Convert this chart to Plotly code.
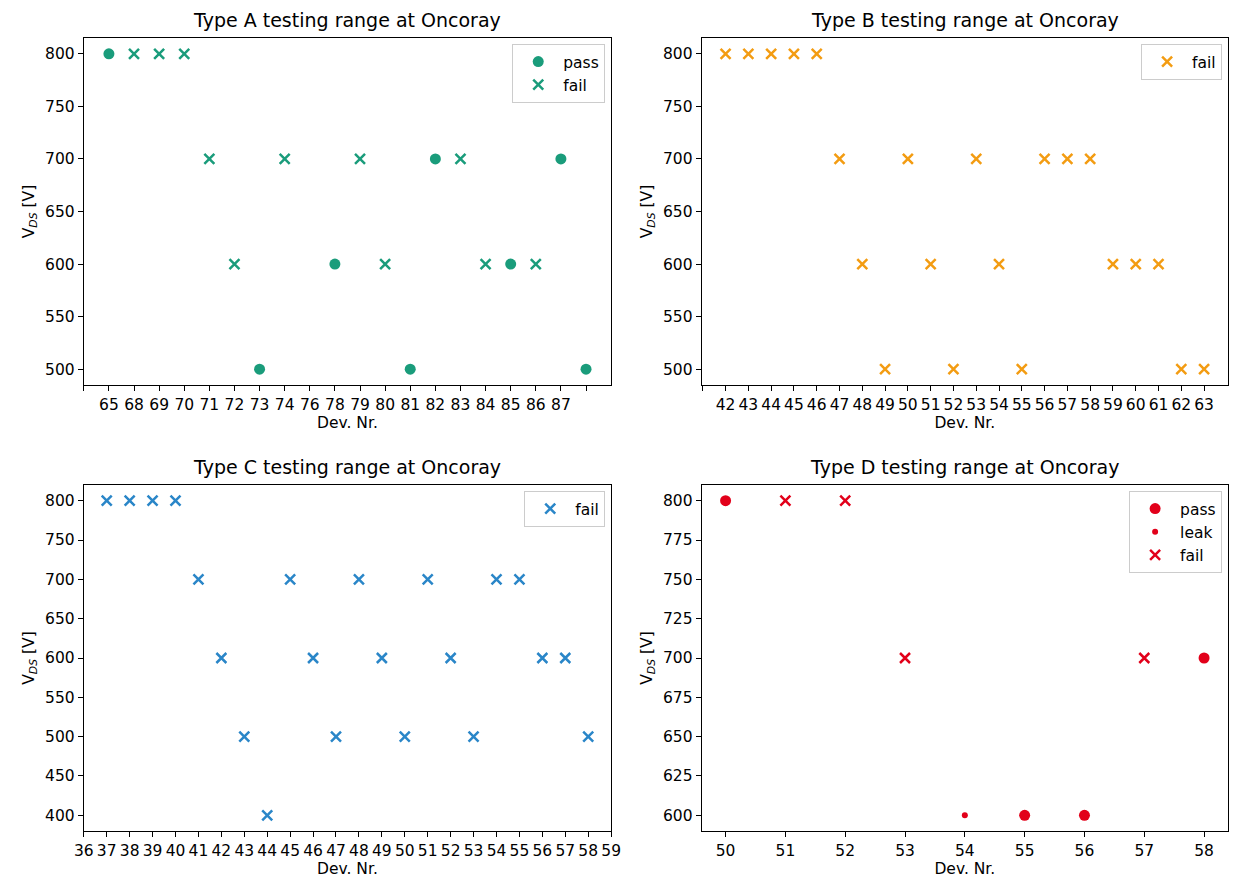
import plotly.graph_objects as go

# ---- Type A: devices placed by index, tick labels per index ----
a_tick_labels = ["", "65", "68", "69", "70", "71", "72", "73", "74", "76", "78",
                 "79", "80", "81", "82", "83", "84", "85", "86", "87", ""]
a_pass_idx = [1, 7, 10, 13, 14, 17, 19, 20]
a_pass_v = [800, 500, 600, 500, 700, 600, 700, 500]
a_fail_idx = [2, 3, 4, 5, 6, 8, 11, 12, 15, 16, 18]
a_fail_v = [800, 800, 800, 700, 600, 700, 700, 600, 700, 600, 600]

# ---- Type B ----
b_tick_labels = [""] + [str(d) for d in range(42, 64)]
b_fail_idx = list(range(1, 23))
b_fail_v = [800, 800, 800, 800, 800, 700, 600, 500, 700, 600, 500,
            700, 600, 500, 700, 700, 700, 600, 600, 600, 500, 500]

# ---- Type C ----
c_fail_dev = list(range(37, 59))
c_fail_v = [800, 800, 800, 800, 700, 600, 500, 400, 700, 600, 500,
            700, 600, 500, 700, 600, 500, 700, 700, 600, 600, 500]

# ---- Type D ----
d_pass_dev = [50, 55, 56, 58]
d_pass_v = [800, 600, 600, 700]
d_leak_dev = [54]
d_leak_v = [600]
d_fail_dev = [51, 52, 53, 57]
d_fail_v = [800, 800, 700, 700]

COL_A = "#1a9c7b"
COL_B = "#f39c12"
COL_C = "#2a86c8"
COL_D = "#e2001a"

FONT = "DejaVu Sans"
FS = 15.5
FS_TITLE = 19
W, H = 1239, 881


def px_x(v):
    return v / W


def px_y(v):
    return 1 - v / H


# axes boxes in pixels: (left, right, top, bottom)
boxes = {
    1: (75, 611, 38, 385),
    2: (703, 1238, 38, 385),
    3: (75, 611, 485, 831),
    4: (703, 1238, 485, 831),
}

fig = go.Figure()


def dot(x, y, name, color, size, legend, xa, ya):
    return go.Scatter(x=x, y=y, mode="markers", name=name, legend=legend,
                      xaxis=xa, yaxis=ya,
                      marker=dict(symbol="circle", size=size, color=color,
                                  line=dict(width=0)))


def cross(x, y, name, color, legend, xa, ya):
    return go.Scatter(x=x, y=y, mode="markers", name=name, legend=legend,
                      xaxis=xa, yaxis=ya,
                      marker=dict(symbol="x-thin", size=10, color=color,
                                  line=dict(width=2.5, color=color)))


fig.add_trace(dot(a_pass_idx, a_pass_v, "pass", COL_A, 11, "legend", "x", "y"))
fig.add_trace(cross(a_fail_idx, a_fail_v, "fail", COL_A, "legend", "x", "y"))

fig.add_trace(cross(b_fail_idx, b_fail_v, "fail", COL_B, "legend2", "x2", "y2"))

fig.add_trace(cross(c_fail_dev, c_fail_v, "fail", COL_C, "legend3", "x3", "y3"))

fig.add_trace(dot(d_pass_dev, d_pass_v, "pass", COL_D, 11, "legend4", "x4", "y4"))
fig.add_trace(dot(d_leak_dev, d_leak_v, "leak", COL_D, 6, "legend4", "x4", "y4"))
fig.add_trace(cross(d_fail_dev, d_fail_v, "fail", COL_D, "legend4", "x4", "y4"))

axis_common = dict(
    showline=True, mirror=True, linecolor="black", linewidth=1,
    showgrid=False, zeroline=False,
    ticks="outside", ticklen=5, tickwidth=1, tickcolor="black",
    tickfont=dict(family=FONT, size=FS, color="black"),
)


def indexed_ticks(labels):
    # labelled positions become major ticks; blank positions keep a bare tick mark
    vals = [i for i, t in enumerate(labels) if t]
    text = [t for t in labels if t]
    blank = [i for i, t in enumerate(labels) if not t]
    return dict(tickmode="array", tickvals=vals, ticktext=text,
                minor=dict(tickmode="array", tickvals=blank, ticks="outside",
                           ticklen=5, tickwidth=1, tickcolor="black", showgrid=False))


titles = {
    1: "Type A testing range at Oncoray",
    2: "Type B testing range at Oncoray",
    3: "Type C testing range at Oncoray",
    4: "Type D testing range at Oncoray",
}

x_settings = {
    1: dict(range=[0, 21], **indexed_ticks(a_tick_labels)),
    2: dict(range=[-0.05, 23.05], **indexed_ticks(b_tick_labels)),
    3: dict(range=[36, 59], tickmode="linear", tick0=36, dtick=1),
    4: dict(range=[49.6, 58.4], tickmode="linear", tick0=50, dtick=1),
}
y_settings = {
    1: dict(range=[485, 815], tickmode="linear", tick0=500, dtick=50),
    2: dict(range=[485, 815], tickmode="linear", tick0=500, dtick=50),
    3: dict(range=[380, 820], tickmode="linear", tick0=400, dtick=50),
    4: dict(range=[590, 810], tickmode="linear", tick0=600, dtick=25),
}

annotations = []
layout_axes = {}
for i in range(1, 5):
    l, r, t, b = boxes[i]
    sfx = "" if i == 1 else str(i)
    layout_axes["xaxis" + sfx] = dict(
        axis_common, domain=[px_x(l), px_x(r)], anchor="y" + sfx,
        title=dict(text="Dev. Nr.", font=dict(family=FONT, size=FS, color="black"),
                   standoff=3),
        **x_settings[i])
    layout_axes["yaxis" + sfx] = dict(
        axis_common, domain=[px_y(b), px_y(t)], anchor="x" + sfx,
        title=dict(text="V<sub><i>DS</i></sub> [V]",
                   font=dict(family=FONT, size=FS, color="black"), standoff=6),
        **y_settings[i])
    annotations.append(dict(
        text=titles[i], xref="paper", yref="paper",
        x=(px_x(l) + px_x(r)) / 2, y=px_y(t), xanchor="center", yanchor="bottom",
        yshift=5, showarrow=False,
        font=dict(family=FONT, size=FS_TITLE, color="black")))

legend_common = dict(
    bgcolor="rgba(255,255,255,0.8)", bordercolor="#cccccc", borderwidth=1,
    font=dict(family=FONT, size=FS, color="black"),
    xanchor="right", yanchor="top", itemsizing="trace", tracegroupgap=0,
    itemwidth=40,
)
legends = {}
for i, name in zip(range(1, 5), ["legend", "legend2", "legend3", "legend4"]):
    l, r, t, b = boxes[i]
    legends[name] = dict(legend_common, x=px_x(r - 6), y=px_y(t + 6))

fig.update_layout(
    width=W, height=H,
    margin=dict(l=0, r=0, t=0, b=0),
    paper_bgcolor="white", plot_bgcolor="white",
    font=dict(family=FONT, size=FS, color="black"),
    annotations=annotations,
    **layout_axes,
    **legends,
)

fig.write_html("out.html")
